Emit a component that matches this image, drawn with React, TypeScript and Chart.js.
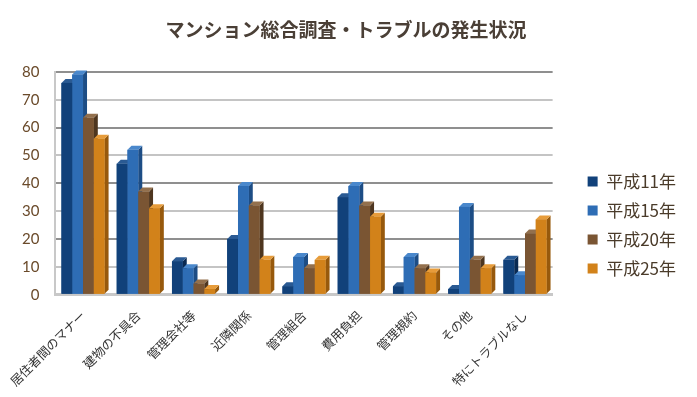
import React, { useEffect, useRef } from "react";
import { Chart, registerables } from "chart.js";

Chart.register(...registerables);

const categories = [
  "居住者間のマナー",
  "建物の不具合",
  "管理会社等",
  "近隣関係",
  "管理組合",
  "費用負担",
  "管理規約",
  "その他",
  "特にトラブルなし",
];
const seriesNames = ["平成11年", "平成15年", "平成20年", "平成25年"];
const h11 = [76, 47, 12, 20, 3, 35, 3, 2, 12.5];
const h15 = [79, 52, 9.5, 39, 13.5, 39, 13.5, 31.5, 7];
const h20 = [63.5, 37, 4, 32, 9.5, 32, 9.5, 12.5, 22];
const h25 = [56, 31, 2, 12.5, 12.5, 28, 8, 9.5, 27];
const yTicks = [0, 10, 20, 30, 40, 50, 60, 70, 80];

const colors = ["#11417a", "#2e6db5", "#7a5533", "#d2821a"];
const sideColors = ["#0a2a52", "#1d4d85", "#4e361f", "#97590c"];
const topColors = ["#2a5a93", "#4a88cc", "#93704d", "#e79c3a"];

const depth = 4;

const bar3d = {
  id: "bar3d",
  afterDatasetsDraw(chart: any) {
    const ctx = chart.ctx;
    const metas = chart.data.datasets.map((_: any, i: number) => chart.getDatasetMeta(i));
    ctx.save();
    for (let j = 0; j < chart.data.labels.length; j++) {
      for (let i = 0; i < metas.length; i++) {
        const el = metas[i].data[j];
        if (!el) continue;
        const p = el.getProps(["x", "y", "base", "width"], true);
        const l = p.x - p.width / 2;
        const r = p.x + p.width / 2;
        const t = p.y;
        const b = p.base;
        ctx.fillStyle = sideColors[i];
        ctx.beginPath();
        ctx.moveTo(r, t);
        ctx.lineTo(r + depth, t - depth);
        ctx.lineTo(r + depth, b - depth);
        ctx.lineTo(r, b);
        ctx.closePath();
        ctx.fill();
        ctx.fillStyle = topColors[i];
        ctx.beginPath();
        ctx.moveTo(l, t);
        ctx.lineTo(l + depth, t - depth);
        ctx.lineTo(r + depth, t - depth);
        ctx.lineTo(r, t);
        ctx.closePath();
        ctx.fill();
        ctx.fillStyle = colors[i];
        ctx.fillRect(l, t, r - l, b - t);
      }
    }
    ctx.restore();
  },
};

const extraGap = 23;
const legendGap = {
  id: "legendGap",
  afterInit(chart: any) {
    const lg = chart.legend;
    if (!lg) return;
    const orig = lg.fit.bind(lg);
    lg.fit = () => {
      orig();
      lg.width += extraGap;
    };
  },
  afterLayout(chart: any) {
    const lg = chart.legend;
    if (lg) {
      lg.left += extraGap;
      lg.top = 161;
    }
  },
};

export default function App() {
  const ref = useRef<HTMLCanvasElement>(null);
  useEffect(() => {
    document.body.style.margin = "0";
    const data = [h11, h15, h20, h25];
    const chart = new Chart(ref.current!, {
      type: "bar",
      data: {
        labels: categories,
        datasets: seriesNames.map((n, i) => ({
          label: n,
          data: data[i],
          backgroundColor: colors[i],
          borderWidth: 0,
          barPercentage: 1,
          categoryPercentage: 0.78,
        })),
      },
      options: {
        animation: false,
        responsive: false,
        layout: { padding: { left: 6, right: 11, top: 8, bottom: 3 } },
        plugins: {
          title: {
            display: true,
            text: "マンション総合調査・トラブルの発生状況",
            color: "#4a3f36",
            font: { size: 19, weight: "bold", family: "Noto Sans CJK JP" },
            padding: { top: 10, bottom: 31 },
          },
          legend: {
            position: "right",
            align: "start",
            labels: {
              color: "#4a3b2a",
              font: { size: 17, family: "Noto Sans CJK JP" },
              boxWidth: 10,
              boxHeight: 10,
              padding: 12,
            },
          },
          tooltip: { enabled: false },
        },
        scales: {
          x: {
            grid: { display: false },
            border: { color: "#c8c8c8", width: 3 },
            ticks: {
              color: "#333333",
              font: { size: 12.5, family: "Noto Sans CJK JP" },
              maxRotation: 45,
              minRotation: 45,
              padding: 5,
            },
          },
          y: {
            min: 0,
            max: 80,
            afterBuildTicks: (axis: any) => {
              axis.ticks = yTicks.map((v) => ({ value: v }));
            },
            grid: {
              color: (c: any) => (c.index % 2 === 0 ? "#8f8f8f" : "#c4c4c4"),
              lineWidth: 2,
              drawTicks: false,
            },
            border: { color: "#c8c8c8", width: 2 },
            ticks: {
              color: "#6a4a2a",
              font: { size: 15, family: "Lato" },
              padding: 16,
            },
          },
        },
      },
      plugins: [bar3d, legendGap],
    });
    return () => chart.destroy();
  }, []);
  return (
    <div style={{ width: 697, height: 397 }}>
      <canvas ref={ref} width={697} height={397} />
    </div>
  );
}
